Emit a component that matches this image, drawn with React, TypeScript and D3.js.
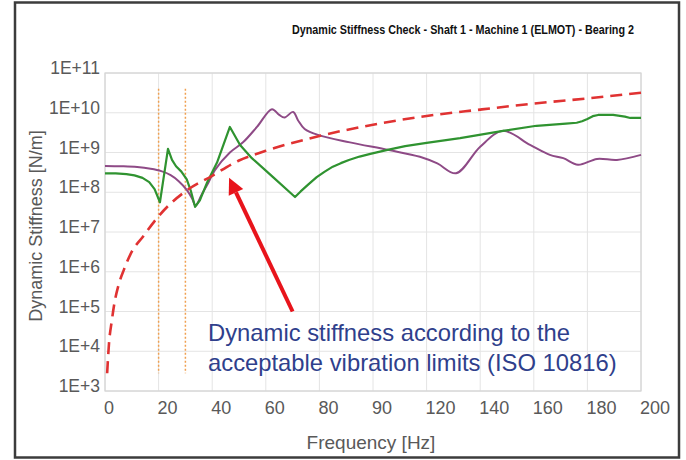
import React from 'react';
import * as d3 from 'd3';

// frequency [Hz] / dynamic stiffness [N/m]
const purpleFreq = [0, 6, 12, 17, 21, 24.5, 27.5, 30.5, 32.5, 33.8, 36, 38.5, 41, 46.6, 51.5, 56.7, 62.3, 65, 67, 70.2, 72, 74.5, 80, 91.4, 106, 117.5, 124, 131, 140, 148.5, 158.6, 166, 171, 176.5, 183.6, 191, 200];
const purpleK = [4.6e8, 4.5e8, 4.3e8, 3.9e8, 3.4e8, 2.7e8, 1.9e8, 1.15e8, 7e7, 4.6e7, 8.5e7, 1.7e8, 3.6e8, 1.0e9, 1.8e9, 4.4e9, 1.23e10, 8.8e9, 7.6e9, 1.05e10, 6.5e9, 3.9e9, 2.7e9, 1.8e9, 1.15e9, 7.8e8, 5.3e8, 3.0e8, 1.4e9, 3.5e9, 1.55e9, 8.7e8, 7.2e8, 4.9e8, 6.9e8, 6.5e8, 8.7e8];

const greenFreq = [0, 4, 8, 11, 14, 16.5, 18.5, 20.5, 23.5, 25, 26.5, 28.5, 30.5, 32, 33.6, 35.4, 38, 41.8, 46.6, 50.4, 54.8, 62.7, 70.9, 73, 76, 79, 82, 85, 88, 91, 95, 99, 105, 112, 120, 132.5, 148.5, 161, 172, 176, 178, 180, 182, 184, 189.6, 194, 196, 200];
const greenK = [3.0e8, 2.97e8, 2.85e8, 2.65e8, 2.3e8, 1.8e8, 1.2e8, 5.6e7, 1.23e9, 6.5e8, 4.5e8, 3.3e8, 2.1e8, 1.1e8, 4.3e7, 6.3e7, 1.7e8, 5.6e8, 4.4e9, 1.55e9, 7.2e8, 2.4e8, 7.6e7, 1.05e8, 1.6e8, 2.4e8, 3.3e8, 4.4e8, 5.4e8, 6.5e8, 7.9e8, 9.2e8, 1.15e9, 1.45e9, 1.74e9, 2.3e9, 3.5e9, 4.7e9, 5.3e9, 5.6e9, 6.1e9, 7.0e9, 8.2e9, 8.8e9, 8.8e9, 8.0e9, 7.4e9, 7.4e9];

const limitFreq = [0.8, 1.5, 2.5, 3.5, 5, 7, 10, 14, 20, 25, 30, 40, 50, 60, 80, 100, 120, 140, 160, 180, 200];
const limitK = [2.8e3, 1.6e4, 5.6e4, 1.6e5, 4.5e5, 1.1e6, 3.2e6, 7.4e6, 2.5e7, 5.6e7, 1.05e8, 2.6e8, 6.3e8, 1.1e9, 2.6e9, 5.0e9, 8.3e9, 1.2e10, 1.7e10, 2.3e10, 3.2e10];

const resonanceFreqs = [20, 30];

const xTickValues = [0, 20, 40, 60, 80, 100, 120, 140, 160, 180, 200];
const xTickLabels = ['0', '20', '40', '60', '80', '90', '120', '140', '160', '180', '200'];
const yTickValues = [1e3, 1e4, 1e5, 1e6, 1e7, 1e8, 1e9, 1e10, 1e11];
const yTickLabels = ['1E+3', '1E+4', '1E+5', '1E+6', '1E+7', '1E+8', '1E+9', '1E+10', '1E+11'];

const W = 686;
const H = 460;
const left = 105, right = 641, top = 73, bottom = 391;
const font = 'Liberation Sans, Arial, sans-serif';

export default function App() {
  const x = d3.scaleLinear().domain([0, 200]).range([left, right]);
  const y = d3.scaleLog().domain([1e3, 1e11]).range([bottom, top]);

  const curve = d3.line<[number, number]>().x(d => x(d[0])).y(d => y(d[1])).curve(d3.curveCatmullRom.alpha(0.5));
  const straight = d3.line<[number, number]>().x(d => x(d[0])).y(d => y(d[1]));
  const smooth = d3.line<[number, number]>().x(d => x(d[0])).y(d => y(d[1])).curve(d3.curveMonotoneX);

  const purple = purpleFreq.map((f, i) => [f, purpleK[i]] as [number, number]);
  const green = greenFreq.map((f, i) => [f, greenK[i]] as [number, number]);
  const limit = limitFreq.map((f, i) => [f, limitK[i]] as [number, number]);

  // arrow (annotation)
  const tail: [number, number] = [x(70), y(1e5)];
  const tip: [number, number] = [x(46.3), y(2.3e8)];
  const ang = Math.atan2(tip[1] - tail[1], tip[0] - tail[0]);
  const hl = 16, hw = 8;
  const base: [number, number] = [tip[0] - hl * Math.cos(ang), tip[1] - hl * Math.sin(ang)];
  const p1 = [base[0] + hw * Math.sin(ang), base[1] - hw * Math.cos(ang)];
  const p2 = [base[0] - hw * Math.sin(ang), base[1] + hw * Math.cos(ang)];

  return (
    <svg width={W} height={H} style={{ position: 'absolute', left: 0, top: 0, background: '#fff' }}>
      <rect x={15} y={2.5} width={664} height={455} fill="#fff" stroke="#3c3c3c" strokeWidth={2.5} />

      <text x={292} y={34} fontFamily={font} fontWeight="bold" fontSize={12} textLength={342} lengthAdjust="spacingAndGlyphs" fill="#111">
        Dynamic Stiffness Check - Shaft 1 - Machine 1 (ELMOT) - Bearing 2
      </text>

      {/* grid */}
      {yTickValues.map(v => (
        <line key={'gy' + v} x1={left} x2={right} y1={y(v)} y2={y(v)} stroke="#e4e4e4" strokeWidth={1} />
      ))}
      {xTickValues.map(v => (
        <line key={'gx' + v} x1={x(v)} x2={x(v)} y1={top} y2={bottom} stroke="#e4e4e4" strokeWidth={1} />
      ))}
      <rect x={left} y={top} width={right - left} height={bottom - top} fill="none" stroke="#d4d4d4" strokeWidth={1.2} />

      {/* tick labels */}
      {yTickValues.map((v, i) => (
        <text key={'ty' + v} x={100} y={y(v) + 1} textAnchor="end" fontFamily={font} fontSize={17.5} fill="#595959">
          {yTickLabels[i]}
        </text>
      ))}
      {xTickValues.map((v, i) => (
        <text key={'tx' + v} x={x(v) - 1} y={414} textAnchor="start" fontFamily={font} fontSize={18} fill="#595959">
          {xTickLabels[i]}
        </text>
      ))}

      <text x={371} y={449} textAnchor="middle" fontFamily={font} fontSize={19} fill="#595959">Frequency [Hz]</text>
      <text transform="translate(42,226) rotate(-90)" textAnchor="middle" fontFamily={font} fontSize={18} fill="#595959">
        Dynamic Stiffness [N/m]
      </text>

      {/* resonance markers */}
      {resonanceFreqs.map(f => (
        <line key={'r' + f} x1={x(f)} x2={x(f)} y1={y(4e10)} y2={y(2.8e3)} stroke="#f0a050" strokeWidth={1.5} strokeDasharray="2,2" />
      ))}

      <path d={curve(purple) || ''} fill="none" stroke="#8e4a86" strokeWidth={2} strokeLinejoin="round" />
      <path d={straight(green) || ''} fill="none" stroke="#2f9330" strokeWidth={2.2} strokeLinejoin="round" />
      <path d={smooth(limit) || ''} fill="none" stroke="#e03232" strokeWidth={2.6} strokeDasharray="12,7" />

      <line x1={tail[0]} y1={tail[1]} x2={base[0]} y2={base[1]} stroke="#e8141b" strokeWidth={4} />
      <polygon points={`${tip[0]},${tip[1]} ${p1[0]},${p1[1]} ${p2[0]},${p2[1]}`} fill="#e8141b" />

      <text x={208} y={341} fontFamily={font} fontSize={23.8} fill="#2f3f8c">Dynamic stiffness according to the</text>
      <text x={208} y={371} fontFamily={font} fontSize={23.8} fill="#2f3f8c">acceptable vibration limits (ISO 10816)</text>
    </svg>
  );
}
